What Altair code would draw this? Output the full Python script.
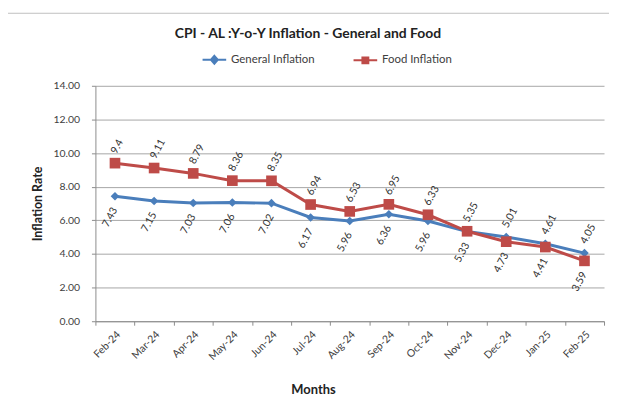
import altair as alt
import pandas as pd

months = ["Feb-24", "Mar-24", "Apr-24", "May-24", "Jun-24", "Jul-24", "Aug-24",
          "Sep-24", "Oct-24", "Nov-24", "Dec-24", "Jan-25", "Feb-25"]
general = [7.43, 7.15, 7.03, 7.06, 7.02, 6.17, 5.96, 6.36, 5.96, 5.33, 5.01, 4.61, 4.05]
food = [9.4, 9.11, 8.79, 8.36, 8.35, 6.94, 6.53, 6.95, 6.33, 5.35, 4.73, 4.41, 3.59]
series_names = ["General Inflation", "Food Inflation"]
colors = ["#4A7EBB", "#BE4B48"]
y_ticks = [0, 2, 4, 6, 8, 10, 12, 14]

rows = []
for i, m in enumerate(months):
    g, f = general[i], food[i]
    rows.append(dict(month=m, series=series_names[0], legend_series=series_names[0], value=g,
                     pos="above" if g > f else "below", label=str(g)))
    rows.append(dict(month=m, series=series_names[1], legend_series=series_names[1], value=f,
                     pos="above" if f >= g else "below", label=str(f)))
df = pd.DataFrame(rows)

FONT = "Lato"
W, H = 512, 237
HALF_BAND = W / len(months) / 2

x_enc = alt.X("month:N", sort=months,
              scale=alt.Scale(type="band", paddingInner=0, paddingOuter=0),
              axis=alt.Axis(title="Months", tickBand="extent", labelAngle=-45, grid=False,
                            labelFontSize=10.5, labelColor="#404040", labelPadding=4,
                            titleFontSize=13, titleFontWeight="bold", titleColor="#222222",
                            titlePadding=22, titleX=219, titleAnchor="start", titleAlign="center",
                            domainColor="#8C8C8C", tickColor="#8C8C8C", tickSize=4,
                            labelFont=FONT, titleFont=FONT))

y_enc = alt.Y("value:Q", scale=alt.Scale(domain=[0, 14], nice=False),
              axis=alt.Axis(title="Inflation Rate", values=y_ticks, format=".2f",
                            labelFontSize=10.5, labelColor="#404040", labelPadding=12,
                            titleFontSize=12.5, titleFontWeight="bold", titleColor="#222222",
                            titlePadding=8, grid=True, gridColor="#A6A6A6", gridWidth=1,
                            domainColor="#8C8C8C", tickColor="#8C8C8C", tickSize=4,
                            labelFont=FONT, titleFont=FONT))

color_scale = alt.Scale(domain=series_names, range=colors)

base = alt.Chart(df)

lines = base.mark_line(strokeWidth=3).encode(
    x=x_enc, y=y_enc,
    color=alt.Color("series:N", scale=color_scale, legend=None),
    detail="series:N",
)

points = base.mark_point(filled=True, opacity=1).encode(
    x=x_enc, y=y_enc,
    color=alt.Color("series:N", scale=color_scale, legend=None),
    shape=alt.Shape("series:N", scale=alt.Scale(domain=series_names, range=["diamond", "square"]), legend=None),
    size=alt.Size("series:N", scale=alt.Scale(domain=series_names, range=[75, 115]), legend=None),
)

above = base.transform_filter(alt.datum.pos == "above").mark_text(
    angle=298, align="left", baseline="middle", fontSize=10.5, font=FONT, color="#333333"
).encode(x=x_enc, y=y_enc, text="label:N",
         yOffset=alt.value(-10), xOffset=alt.value(HALF_BAND - 1))

below = base.transform_filter(alt.datum.pos == "below").mark_text(
    angle=298, align="right", baseline="middle", fontSize=10.5, font=FONT, color="#333333"
).encode(x=x_enc, y=y_enc, text="label:N",
         yOffset=alt.value(12), xOffset=alt.value(HALF_BAND))

diamond_path = "M-3.4,0H3.4M0,-1.15L1.0,0L0,1.15L-1.0,0Z"
square_path = "M-3.4,0H3.4M-0.85,-0.85H0.85V0.85H-0.85Z"

legend_layer = base.mark_point(filled=True, opacity=0).encode(
    x=x_enc, y=y_enc,
    color=alt.Color("legend_series:N", scale=alt.Scale(domain=series_names, range=colors),
                    legend=alt.Legend(title=None, orient="none", legendX=114, legendY=-32,
                                      direction="horizontal", symbolSize=49, symbolStrokeWidth=2,
                                      symbolOpacity=1, labelFontSize=11.5, labelFont=FONT,
                                      labelColor="#404040", labelOffset=11, columnPadding=34)),
    shape=alt.Shape("legend_series:N", scale=alt.Scale(domain=series_names, range=[diamond_path, square_path])),
    stroke=alt.Stroke("legend_series:N", scale=alt.Scale(domain=series_names, range=colors)),
)

frame = alt.Chart(pd.DataFrame({"a": [0]})).mark_rect(
    fill=None, stroke="#BFBFBF", strokeWidth=1
).encode(x=alt.value(-92), x2=alt.value(560), y=alt.value(-73), y2=alt.value(400))

chart = alt.layer(frame, lines, points, above, below, legend_layer).resolve_scale(
    color="independent", shape="independent", stroke="independent", size="independent"
).properties(
    width=W, height=H,
    title=alt.TitleParams("CPI - AL :Y-o-Y Inflation - General and Food", fontSize=14,
                          fontWeight="bold", font=FONT, color="#222222", anchor="middle",
                          dx=-42, offset=-28),
    autosize=alt.AutoSizeParams(type="none"),
    padding={"left": 88, "top": 77, "right": 5, "bottom": 80},
).configure_view(stroke=None).configure_legend(symbolOpacity=1)

chart.save("out.html", embed_options={"renderer": "svg", "actions": False})
